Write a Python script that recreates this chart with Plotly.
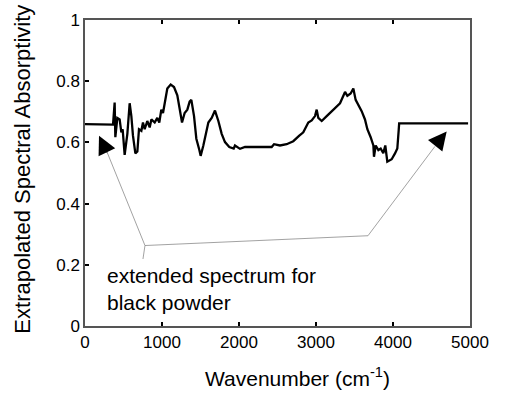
import plotly.graph_objects as go

wavenumber = [0, 364, 385, 394, 420, 450, 472, 489, 515, 550, 580, 602, 623, 654, 680,
              701, 732, 753, 775, 809, 840, 862, 905, 939, 965, 991, 1013, 1035, 1069,
              1113, 1156, 1199, 1229, 1260, 1294, 1329, 1359, 1381, 1416, 1446, 1485,
              1502, 1537, 1602, 1645, 1688, 1732, 1775, 1818, 1874, 1931, 1948, 2013,
              2078, 2229, 2424, 2455, 2532, 2619, 2705, 2783, 2835, 2900, 2944, 2987,
              3009, 3030, 3074, 3139, 3225, 3312, 3377, 3407, 3450, 3485, 3515, 3550,
              3593, 3636, 3667, 3710, 3745, 3753, 3775, 3810, 3840, 3874, 3900, 3926,
              3983, 4026, 4056, 4074, 4080, 4975]
absorptivity = [0.66, 0.658, 0.730, 0.617, 0.680, 0.675, 0.633, 0.643, 0.559, 0.628, 0.728,
                0.686, 0.622, 0.564, 0.570, 0.643, 0.638, 0.665, 0.643, 0.670, 0.649,
                0.675, 0.665, 0.680, 0.665, 0.707, 0.696, 0.728, 0.776, 0.789, 0.781,
                0.754, 0.707, 0.665, 0.696, 0.707, 0.733, 0.739, 0.686, 0.612, 0.575,
                0.556, 0.590, 0.665, 0.680, 0.704, 0.670, 0.628, 0.601, 0.585, 0.580,
                0.590, 0.579, 0.585, 0.585, 0.585, 0.594, 0.590, 0.594, 0.604, 0.622,
                0.633, 0.665, 0.672, 0.686, 0.707, 0.680, 0.670, 0.686, 0.707, 0.728,
                0.765, 0.752, 0.760, 0.776, 0.739, 0.723, 0.702, 0.675, 0.643, 0.617,
                0.590, 0.553, 0.590, 0.575, 0.580, 0.565, 0.590, 0.537, 0.545, 0.564,
                0.580, 0.640, 0.662, 0.662]

# Leader line (bracket joining the two arrows to the label)
leader_x = [292, 779, 3675, 4545, None, 779, 753]
leader_y = [0.565, 0.263, 0.295, 0.587, None, 0.263, 0.219]

# Arrow tips
arrow_x = [182, 4697]
arrow_y = [0.622, 0.636]

x_ticks = [0, 1000, 2000, 3000, 4000, 5000]
y_ticks = [0, 0.2, 0.4, 0.6, 0.8, 1]
y_tick_labels = ["0", "0.2", "0.4", "0.6", "0.8", "1"]

FONT = "Liberation Sans, Arial, sans-serif"

fig = go.Figure()
fig.add_trace(go.Scatter(x=leader_x, y=leader_y, mode="lines",
                         line=dict(color="#8a8a8a", width=0.8),
                         hoverinfo="skip", showlegend=False))
fig.add_trace(go.Scatter(x=wavenumber, y=absorptivity, mode="lines",
                         line=dict(color="black", width=2.3),
                         showlegend=False))

for xa, ya, ax, ay in zip(arrow_x, arrow_y, [9, -12], [19, 15]):
    fig.add_annotation(x=xa, y=ya, ax=ax, ay=ay, xref="x", yref="y",
                       showarrow=True, arrowhead=2, arrowsize=4.6,
                       arrowwidth=0.8, arrowcolor="black", text="")

fig.add_annotation(x=260, y=0.122, xref="x", yref="y", xanchor="left",
                   yanchor="middle", align="left", showarrow=False,
                   text="extended spectrum for<br>black powder",
                   font=dict(family=FONT, size=21, color="black"))

fig.add_annotation(x=0.551, y=-0.168, xref="paper", yref="paper",
                   xanchor="center", yanchor="middle", showarrow=False,
                   text="Wavenumber (cm<sup>-1</sup>)",
                   font=dict(family=FONT, size=21, color="black"))
fig.add_annotation(x=-0.161, y=0.511, xref="paper", yref="paper",
                   xanchor="center", yanchor="middle", showarrow=False,
                   textangle=-90, text="Extrapolated Spectral Absorptivity",
                   font=dict(family=FONT, size=22, color="black"))

fig.update_xaxes(range=[0, 5000], tickvals=x_ticks, ticks="inside", ticklen=4,
                 tickwidth=1.5, tickcolor="black", showgrid=False, zeroline=False,
                 showline=True, linecolor="#555555", linewidth=1.5, mirror="ticks",
                 tickfont=dict(family=FONT, size=17, color="black"))
fig.update_yaxes(range=[0, 1], tickvals=y_ticks, ticktext=y_tick_labels,
                 ticks="inside", ticklen=4, tickwidth=1.5, tickcolor="black",
                 showgrid=False, zeroline=False, showline=True,
                 linecolor="#555555", linewidth=1.5, mirror=True,
                 tickfont=dict(family=FONT, size=17, color="black"))

fig.update_layout(width=507, height=397, autosize=False,
                  margin=dict(l=85, r=37, t=11, b=71),
                  plot_bgcolor="white", paper_bgcolor="white",
                  font=dict(family=FONT, color="black"))

fig.write_html("out.html")
